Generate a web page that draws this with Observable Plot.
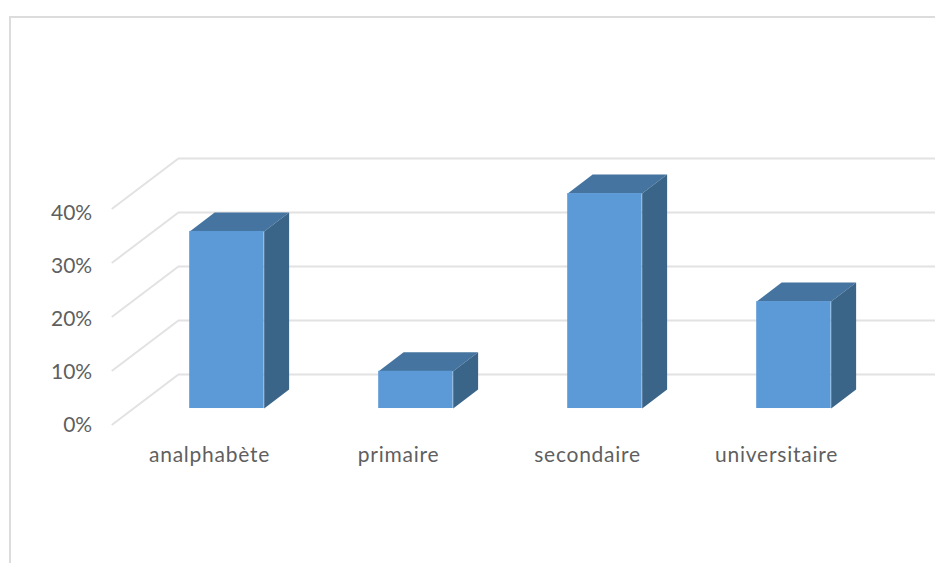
<!DOCTYPE html>
<html>
<head>
<meta charset="utf-8">
<script src="https://cdn.jsdelivr.net/npm/d3@7"></script>
<script src="https://cdn.jsdelivr.net/npm/@observablehq/plot@0.6"></script>
<style>
  html, body { margin: 0; padding: 0; background: #fff; overflow: hidden; }
  #page { position: relative; width: 935px; height: 563px; overflow: hidden; }
  #area { position: absolute; left: 9px; top: 16px; width: 1000px; height: 700px;
          border-left: 2px solid #dcdcdc; border-top: 2px solid #dcdcdc; }
  #chart { position: absolute; left: 0; top: 0; }
  #chart svg { display: block; }
</style>
</head>
<body>
<div id="page"><div id="area"></div><div id="chart"></div></div>
<script>
const categories = ["analphabète", "primaire", "secondaire", "universitaire"];
const values = [32.8, 6.9, 39.8, 19.8];
const gridValues = [0, 10, 20, 30, 40];
const tickLabels = ["0%", "10%", "20%", "30%", "40%"];

// 3D projection, in scale units (x: category slots, y: percentage points)
const xDomain = [-1.198, 3.749];
const yDomain = [-35, 69.26];
const halfBar = 0.197;
const depthX = 0.132;
const depthY = 3.52;
const floorY = -6.3;
const wallLeft = -0.2566;
const floorLeft = -0.606;
const floorDrop = 9.26;
const labelShiftX = -0.092;
const labelY = -15;

const bars = categories.map((c, i) => ({c, i, v: values[i], x1: i - halfBar, x2: i + halfBar, y1: floorY, y2: floorY + values[i]}));

const grid = gridValues.flatMap(v => [
  {v, x: floorLeft, y: v - floorDrop},
  {v, x: wallLeft, y: v},
  {v, x: xDomain[1], y: v}
]);

const sides = bars.flatMap(b => [
  {c: b.c, x: b.x2, y: b.y1},
  {c: b.c, x: b.x2 + depthX, y: b.y1 + depthY},
  {c: b.c, x: b.x2 + depthX, y: b.y2 + depthY},
  {c: b.c, x: b.x2, y: b.y2}
]);

const tops = bars.flatMap(b => [
  {c: b.c, x: b.x1, y: b.y2},
  {c: b.c, x: b.x1 + depthX, y: b.y2 + depthY},
  {c: b.c, x: b.x2 + depthX, y: b.y2 + depthY},
  {c: b.c, x: b.x2, y: b.y2}
]);

const plot = Plot.plot({
  width: 935,
  height: 563,
  marginTop: 0, marginRight: 0, marginBottom: 0, marginLeft: 0,
  x: {domain: xDomain, range: [0, 935], axis: null},
  y: {domain: yDomain, range: [563, 0], axis: null},
  style: {background: "transparent", fontFamily: "Lato, sans-serif", fontSize: "21px"},
  marks: [
    Plot.line(grid, {x: "x", y: "y", z: "v", stroke: "#e2e2e2", strokeWidth: 2, curve: "linear"}),
    Plot.line(tops, {x: "x", y: "y", z: "c", fill: "#44749f", stroke: "none", curve: "linear"}),
    Plot.line(sides, {x: "x", y: "y", z: "c", fill: "#3a6488", stroke: "none", curve: "linear"}),
    Plot.rect(bars, {x1: "x1", x2: "x2", y1: "y1", y2: "y2", fill: "#5b9ad6"}),
    Plot.text(gridValues, {
      x: () => floorLeft - 0.107,
      y: v => v * 53 / 54 - 9.44,
      text: (v, i) => tickLabels[i],
      textAnchor: "end",
      fill: "#5f5f5f",
      className: "tick-labels"
    }),
    Plot.text(bars, {
      x: b => b.i + labelShiftX,
      y: () => labelY,
      text: "c",
      fill: "#5f5f5f",
      className: "cat-labels"
    })
  ]
});
d3.select(plot).selectAll(".cat-labels").style("letter-spacing", "0.75px");
d3.select(plot).selectAll(".tick-labels").style("letter-spacing", "0px");
document.getElementById("chart").appendChild(plot);
</script>
</body>
</html>
